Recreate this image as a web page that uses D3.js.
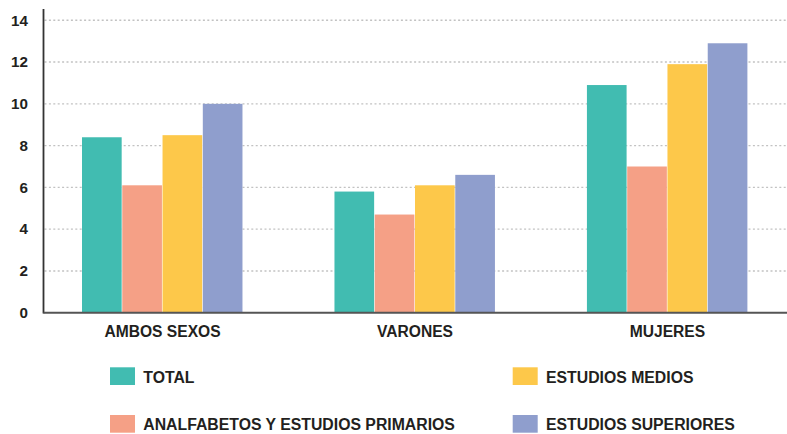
<!DOCTYPE html>
<html><head><meta charset="utf-8">
<script src="https://cdn.jsdelivr.net/npm/d3@7"></script>
<style>
body{margin:0;background:#fff;}
text{font-family:"Liberation Sans",Arial,sans-serif;font-weight:bold;fill:#231f20;}
</style></head><body>
<svg id="c" width="787" height="434"></svg>
<script>
const categories = ["AMBOS SEXOS","VARONES","MUJERES"];
const seriesNames = ["TOTAL","ANALFABETOS Y ESTUDIOS PRIMARIOS","ESTUDIOS MEDIOS","ESTUDIOS SUPERIORES"];
const total = [8.4, 5.8, 10.9];
const analfabetos = [6.1, 4.7, 7.0];
const medios = [8.5, 6.1, 11.9];
const superiores = [10.0, 6.6, 12.9];
const yTicks = [0,2,4,6,8,10,12,14];
const colors = ["#41BCB1","#F5A086","#FDC84A","#8F9ECD"];

const values = [total, analfabetos, medios, superiores];
const svg = d3.select("#c");
const axisX = 43.5;
const y = d3.scaleLinear().domain([0,14]).range([312.7,20.3]);
const x0 = d3.scaleBand().domain(categories).range([82,748]).paddingInner(0.362).paddingOuter(0);
const x1 = d3.scaleBand().domain(seriesNames).range([0,x0.bandwidth()]).padding(0);

// gridlines
svg.append("g").selectAll("line").data(yTicks.filter(d=>d>0)).join("line")
  .attr("x1",axisX+1).attr("x2",787).attr("y1",d=>y(d)).attr("y2",d=>y(d))
  .attr("stroke","#c2c2c2").attr("stroke-width",1.4).attr("stroke-dasharray","2,2.4");

// bars
const g = svg.append("g");
categories.forEach((c,ci)=>{
  seriesNames.forEach((s,si)=>{
    g.append("rect")
      .attr("x",x0(c)+x1(s)).attr("width",x1.bandwidth()-0.6)
      .attr("y",y(values[si][ci])).attr("height",y(0)-y(values[si][ci]))
      .attr("fill",colors[si]);
  });
});

// y axis labels
svg.append("g").selectAll("text").data(yTicks).join("text")
  .attr("x",28).attr("y",d=>y(d)+5.3).attr("text-anchor","end")
  .style("font-size","15.2px").text(d=>d);

// axes lines
svg.append("line").attr("x1",axisX).attr("x2",axisX).attr("y1",9).attr("y2",313.5)
  .attr("stroke","#333").attr("stroke-width",1.8);
svg.append("line").attr("x1",axisX).attr("x2",787).attr("y1",312.7).attr("y2",312.7)
  .attr("stroke","#555").attr("stroke-width",2);

// x labels
svg.append("g").selectAll("text").data(categories).join("text")
  .attr("x",d=>x0(d)+x0.bandwidth()/2).attr("y",337.3).attr("text-anchor","middle")
  .style("font-size","15.6px").text(d=>d);

// legend
const legPos = [[110,367.3],[110,415],[512.7,367.3],[512.7,415]];
const lg = svg.append("g");
seriesNames.forEach((s,i)=>{
  lg.append("rect").attr("x",legPos[i][0]).attr("y",legPos[i][1]).attr("width",25).attr("height",17.7).attr("fill",colors[i]);
  lg.append("text").attr("x",legPos[i][0]+33.3).attr("y",legPos[i][1]+15.2).style("font-size","15.8px").text(s);
});
</script>
</body></html>
